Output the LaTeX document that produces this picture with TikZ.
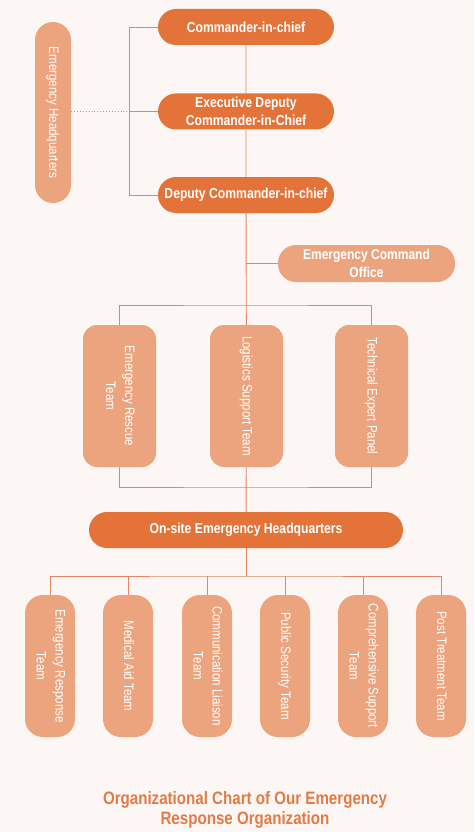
\documentclass[tikz,border=0pt]{standalone}
\usepackage{fontspec}
\setmainfont{Liberation Sans}[FakeStretch=0.84]
\usepackage{graphicx}
\usetikzlibrary{positioning, calc}
\definecolor{bgcream}{RGB}{252,247,244}
\definecolor{cmdorange}{RGB}{228,115,58}
\definecolor{teamorange}{RGB}{236,164,126}
\definecolor{linkorange}{RGB}{230,132,100}
\definecolor{titleorange}{RGB}{226,123,70}
\newcommand{\vlabel}[1]{\rotatebox{-90}{\begin{tabular}{@{}c@{}}#1\end{tabular}}}

\begin{document}
\begin{tikzpicture}[x=1pt, y=-1pt,
    link/.style={draw=linkorange, line width=0.9pt},
    mainbox/.style={fill=cmdorange, text=white, rounded corners=18pt, minimum width=176pt,
        minimum height=36pt, inner sep=0pt, align=center, font=\bfseries\fontsize{14.5}{18}\selectfont},
    sidebox/.style={fill=teamorange, text=white, rounded corners=18pt, inner sep=0pt,
        align=center, font=\fontsize{13.7}{19}\selectfont},
    teambox/.style={fill=teamorange, text=white, rounded corners=14pt, minimum width=73pt,
        minimum height=142pt, inner sep=0pt, font=\fontsize{13.7}{19}\selectfont},
    crewbox/.style={teambox, rounded corners=18pt, minimum width=50pt}]
    \useasboundingbox[fill=bgcream] (0,0) rectangle (474,832);

    % command line
    \node[mainbox] (chief) at (246,27) {Commander-in-chief};
    \node[mainbox] (execdep) at (246,111.5) {Executive Deputy\\Commander-in-Chief};
    \node[mainbox] (deputy) at (246,195) {Deputy Commander-in-chief};
    \node[sidebox, minimum width=36pt, minimum height=181pt] (emhq) at (53,112.5)
        {\vlabel{Emergency Headquarters}};
    \node[sidebox, font=\bfseries\fontsize{14.3}{18}\selectfont, minimum width=177pt,
        minimum height=37pt] (office) at (366.5,263.5) {Emergency Command\\Office};

    % working teams
    \node[teambox] (rescue) at (119.5,396) {\vlabel{Emergency Rescue\\Team}};
    \node[teambox] (logistics) at (246.5,396) {\vlabel{Logistics Support Team}};
    \node[teambox] (expert) at (371.5,396) {\vlabel{Technical Expert Panel}};

    \node[mainbox, minimum width=314pt] (onsite) at (246,530) {On-site Emergency Headquarters};

    % on-site groups
    \foreach \name/\xx/\txt in {response/50/{Emergency Response\\Team},
            medical/128/{Medical Aid Team}, liaison/207/{Communication Liaison\\Team},
            security/285/{Public Security Team}, support/363/{Comprehensive Support\\Team},
            posttreat/441/{Post Treatment Team}}
        \node[crewbox] (\name) at (\xx,666) {\vlabel{\txt}};

    % connectors
    \coordinate (brk) at (129,0);
    \coordinate (topbus) at (246,305);
    \coordinate (lowbus) at (246,487);
    \coordinate (crewbus) at (246,576);
    \draw[link] (chief) -- (execdep) -- (deputy) -- (logistics) -- (onsite);
    \draw[link] (chief.west) -- (chief.west -| brk) -- (deputy.west -| brk) -- (deputy.west);
    \draw[link] (execdep.west) -- (execdep.west -| brk);
    \draw[link, dotted] (emhq.east |- execdep.west) -- (execdep.west -| brk);
    \draw[link] (office.west -| deputy) -- (office.west);
    \draw[link] (rescue.north) |- (topbus) -| (expert.north);
    \draw[link] (rescue.south) |- (lowbus) -| (expert.south);
    \draw[link] (onsite) -- (crewbus);
    \draw[link] (response.north) |- (crewbus) -| (posttreat.north);
    \foreach \n in {medical, liaison, security, support}
        \draw[link] (\n.north) -- (\n.north |- crewbus);

    \node[text=titleorange, align=center, font=\bfseries\fontsize{18}{20}\selectfont] (title)
        at (245,810) {Organizational Chart of Our Emergency\\Response Organization};
\end{tikzpicture}
\end{document}
